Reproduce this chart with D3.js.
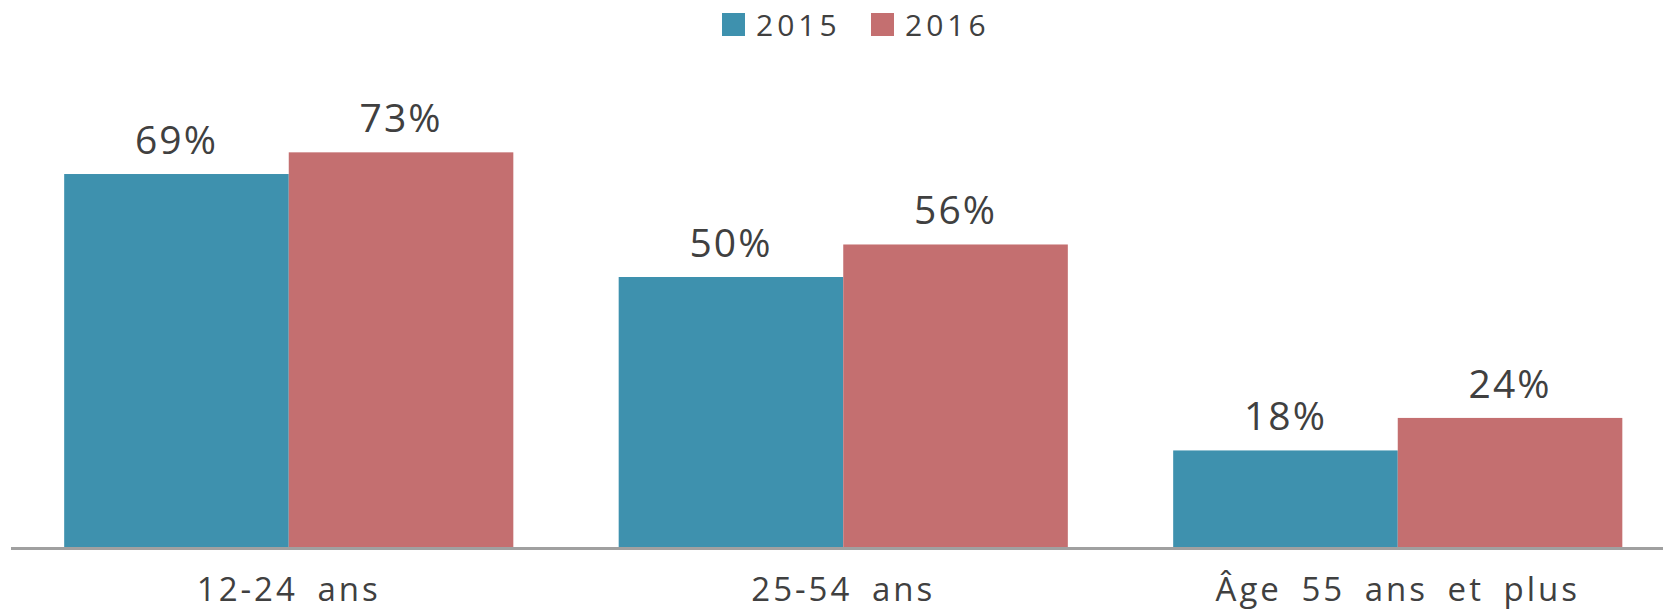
<!DOCTYPE html>
<html>
<head>
<meta charset="utf-8">
<script src="https://cdn.jsdelivr.net/npm/d3@7"></script>
<style>
  body { margin: 0; background: #fff; }
  svg text { font-family: "Open Sans", "Noto Sans", sans-serif; fill: #404040; }
</style>
</head>
<body>
<svg id="chart" width="1663" height="609"></svg>
<script>
var categories = ["12-24 ans", "25-54 ans", "Âge 55 ans et plus"];
var years = ["2015", "2016"];
var values2015 = [69, 50, 18];
var values2016 = [73, 56, 24];
var colors = ["#3e91ae", "#c46f70"];

var width = 1663, height = 609;
var baseY = 548;
var svg = d3.select("#chart");

var data = categories.map(function(c, i) {
  return { cat: c, vals: [values2015[i], values2016[i]] };
});

var x0 = d3.scaleBand()
    .domain(categories)
    .range([11.5, 1675])
    .paddingInner(0.19)
    .paddingOuter(0.095);

var x1 = d3.scaleBand()
    .domain(years)
    .range([0, x0.bandwidth()]);

var y = d3.scaleLinear()
    .domain([0, 100])
    .range([baseY, baseY - 542]);

var groups = svg.selectAll("g.grp")
  .data(data)
  .enter().append("g")
    .attr("class", "grp")
    .attr("transform", function(d) { return "translate(" + x0(d.cat) + ",0)"; });

groups.selectAll("rect")
  .data(function(d) { return d.vals.map(function(v, j) { return { year: years[j], v: v, j: j }; }); })
  .enter().append("rect")
    .attr("x", function(d) { return x1(d.year); })
    .attr("y", function(d) { return y(d.v); })
    .attr("width", x1.bandwidth())
    .attr("height", function(d) { return baseY - y(d.v); })
    .attr("fill", function(d) { return colors[d.j]; });

groups.selectAll("text.val")
  .data(function(d) { return d.vals.map(function(v, j) { return { year: years[j], v: v }; }); })
  .enter().append("text")
    .attr("class", "val")
    .attr("x", function(d) { return x1(d.year) + x1.bandwidth() / 2; })
    .attr("y", function(d) { return y(d.v) - 20; })
    .attr("text-anchor", "middle")
    .style("font-size", "39px")
    .style("letter-spacing", "2px")
    .text(function(d) { return d.v + "%"; });

// axis line
svg.append("line")
    .attr("x1", 11).attr("x2", width)
    .attr("y1", baseY + 0.5).attr("y2", baseY + 0.5)
    .attr("stroke", "#a0a0a0")
    .attr("stroke-width", 3);

svg.selectAll("text.cat")
  .data(categories)
  .enter().append("text")
    .attr("class", "cat")
    .attr("x", function(d) { return x0(d) + x0.bandwidth() / 2; })
    .attr("y", 601)
    .attr("text-anchor", "middle")
    .style("font-size", "33px")
    .style("letter-spacing", "3px")
    .style("word-spacing", "8px")
    .text(function(d) { return d; });

// legend
var legend = svg.append("g");
var legX = [722, 871];
years.forEach(function(yr, i) {
  legend.append("rect")
    .attr("x", legX[i]).attr("y", 13)
    .attr("width", 23).attr("height", 23)
    .attr("fill", colors[i]);
  legend.append("text")
    .attr("x", legX[i] + 34).attr("y", 36)
    .style("font-size", "30px")
    .style("letter-spacing", "4px")
    .text(yr);
});
</script>
</body>
</html>
